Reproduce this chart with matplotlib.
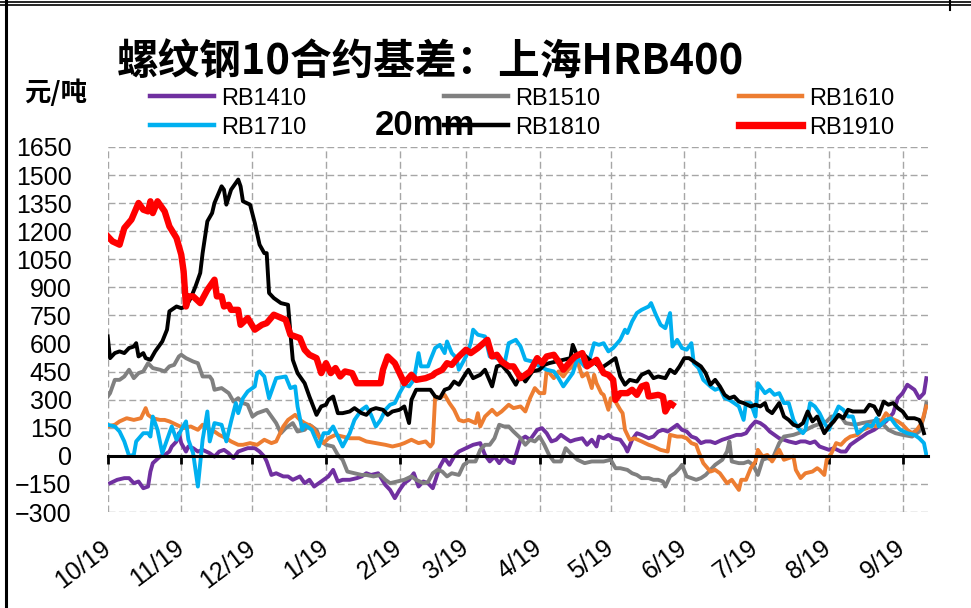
import matplotlib.pyplot as plt
from matplotlib.lines import Line2D
import numpy as np
import pandas as pd

plt.rcParams['font.family'] = ['Liberation Sans', 'Noto Sans CJK SC', 'DejaVu Sans']

# x values are calendar days counted from 1 Oct (season start)
months = pd.date_range('2018-10-01', '2019-09-01', freq='MS')
month_days = (months - months[0]).days
month_labels = ['10/19', '11/19', '12/19', '1/19', '2/19', '3/19',
                '4/19', '5/19', '6/19', '7/19', '8/19', '9/19']

# (day, basis) pairs
rb1410 = [(1, -146), (4, -128), (7, -119), (9, -119), (11, -146), (13, -137), (15, -173), (17, -164), (18, -84),
          (19, -39), (22, -4), (24, 5), (26, 23), (27, 50), (29, 77), (30, 121), (31, 68), (33, 23), (34, 50),
          (36, 41), (38, 23), (40, 32), (43, 14), (45, -4), (47, 23), (49, 32), (51, 14), (53, -12), (55, 23),
          (57, 32), (59, 41), (62, 41), (64, 23), (66, -4), (67, -30), (69, -102), (71, -93), (74, -110), (76, -110),
          (78, -128), (81, -110), (83, -146), (85, -128), (87, -164), (89, -146), (91, -128), (93, -110), (95, -75),
          (97, -137), (99, -128), (102, -128), (105, -119), (107, -110), (109, -93), (111, -102), (114, -93),
          (117, -155), (119, -182), (121, -226), (123, -182), (125, -146), (127, -128), (129, -93), (131, -164),
          (133, -137), (135, -146), (137, -173), (140, -57), (142, -12), (144, -48), (146, -4), (148, 23), (151, 41),
          (154, 59), (157, 68), (159, 5), (161, -30), (163, -4), (165, -39), (167, -4), (169, -30), (171, -39),
          (174, 86), (176, 103), (178, 86), (181, 139), (183, 148), (185, 121), (187, 77), (189, 86), (191, 112),
          (193, 94), (195, 77), (197, 86), (200, 94), (202, 59), (204, 86), (206, 50), (207, 103), (209, 94),
          (211, 112), (213, 94), (216, 86), (218, 50), (219, 23), (221, 86), (223, 121), (225, 112), (228, 94),
          (230, 103), (232, 130), (234, 139), (236, 130), (238, 148), (240, 166), (242, 139), (244, 130), (246, 103),
          (248, 94), (250, 68), (252, 77), (254, 77), (256, 68), (259, 86), (261, 94), (263, 103), (265, 112),
          (267, 112), (269, 121), (271, 157), (273, 184), (275, 175), (277, 157), (279, 130), (281, 112), (283, 94),
          (285, 86), (287, 77), (290, 68), (292, 77), (294, 77), (296, 68), (298, 77), (300, 50), (302, 41),
          (304, 32), (306, 41), (309, 23), (311, 23), (313, 59), (316, 86), (318, 103), (320, 121), (323, 139),
          (325, 157), (328, 184), (331, 228), (333, 308), (335, 335), (337, 380), (340, 353), (342, 308), (344, 335),
          (345, 415)]

rb1510 = [(0, 317), (1, 335), (3, 406), (5, 406), (7, 424), (9, 460), (11, 415), (13, 442), (15, 451), (17, 495),
          (19, 469), (22, 460), (24, 451), (26, 478), (28, 486), (30, 531), (31, 540), (33, 522), (36, 504), (38, 495),
          (40, 424), (43, 424), (44, 406), (45, 353), (48, 362), (50, 344), (51, 335), (53, 290), (55, 308), (57, 282),
          (59, 273), (61, 210), (63, 228), (65, 237), (67, 246), (69, 210), (71, 175), (73, 121), (75, 148), (78, 175),
          (80, 130), (83, 139), (85, 166), (88, 139), (90, 77), (92, 59), (95, 50), (97, 5), (99, -21), (101, -84),
          (104, -93), (107, -102), (109, -102), (112, -110), (115, -102), (117, -128), (119, -146), (122, -137),
          (125, -128), (128, -110), (130, -128), (133, -146), (135, -140), (137, -93), (139, -75), (141, -84),
          (143, -110), (145, -93), (148, -102), (150, -48), (152, -30), (155, -30), (157, 32), (159, 59), (161, 59),
          (163, 94), (165, 166), (167, 157), (169, 157), (171, 130), (174, 94), (176, 59), (178, 86), (180, 77),
          (182, 103), (184, 59), (186, 5), (188, -30), (191, -30), (193, 41), (195, 14), (198, -21), (201, -39),
          (204, -30), (207, -30), (209, -30), (212, -21), (214, -66), (216, -66), (219, -75), (221, -93), (223, -102),
          (225, -119), (228, -119), (230, -128), (232, -128), (234, -137), (235, -164), (237, -110), (239, -93),
          (241, -66), (242, -48), (244, -110), (246, -119), (248, -128), (250, -119), (252, -102), (254, -75),
          (256, -48), (259, -21), (261, 23), (262, 77), (263, -30), (266, -39), (268, -39), (270, -30), (272, -48),
          (274, -102), (276, -21), (278, -12), (280, -21), (283, 68), (285, 103), (289, 112), (293, 130), (297, 157),
          (303, 184), (305, 210), (309, 210), (311, 175), (315, 166), (318, 175), (322, 184), (325, 192), (329, 139),
          (332, 121), (335, 112), (339, 103), (342, 130), (344, 210), (345, 282)]

rb1610 = [(0, 157), (3, 166), (5, 184), (8, 201), (11, 192), (14, 201), (16, 255), (17, 219), (19, 201), (22, 192),
          (24, 192), (26, 184), (29, 166), (32, 148), (35, 157), (38, 139), (40, 166), (42, 148), (45, 130), (47, 112),
          (50, 94), (52, 77), (55, 59), (57, 59), (60, 68), (63, 59), (66, 86), (69, 68), (71, 77), (74, 157),
          (76, 192), (79, 219), (81, 192), (83, 175), (86, 157), (89, 103), (91, 68), (93, 94), (96, 112), (99, 103),
          (102, 94), (106, 94), (109, 77), (113, 68), (117, 59), (120, 50), (123, 59), (125, 68), (128, 86), (131, 68),
          (134, 77), (136, 50), (137, 68), (138, 317), (140, 308), (142, 326), (144, 282), (146, 246), (148, 192),
          (150, 184), (152, 192), (155, 175), (156, 228), (157, 157), (159, 210), (162, 246), (164, 219), (166, 237),
          (169, 273), (171, 255), (174, 264), (176, 237), (178, 308), (180, 362), (182, 335), (184, 335), (185, 460),
          (188, 415), (190, 451), (192, 424), (194, 460), (196, 478), (198, 504), (200, 424), (202, 442), (204, 362),
          (205, 433), (206, 388), (208, 335), (209, 326), (211, 246), (212, 308), (214, 290), (216, 246), (217, 228),
          (218, 139), (220, 86), (222, 94), (225, 77), (228, 59), (230, 50), (233, 32), (236, 23), (237, 112),
          (240, 103), (242, 103), (244, 94), (246, 68), (248, 59), (249, 23), (251, -39), (254, -84), (256, -75),
          (258, -93), (260, -128), (261, -146), (263, -128), (266, -182), (267, -128), (269, -128), (271, -66),
          (273, -30), (274, 32), (276, -4), (278, 5), (280, -30), (283, 32), (285, -21), (287, -12), (289, -4),
          (290, -75), (292, -119), (294, -93), (297, -84), (299, -66), (300, -75), (302, -102), (303, -21), (305, 14),
          (307, 68), (309, 59), (311, 86), (313, 103), (316, 112), (318, 139), (320, 148), (322, 166), (324, 157),
          (326, 184), (328, 228), (330, 201), (333, 184), (335, 166), (337, 139), (339, 121), (341, 139), (343, 175),
          (345, 264)]

rb1710 = [(0, 166), (3, 157), (5, 130), (7, 77), (9, 0), (11, 5), (12, 77), (15, 121), (17, 121), (18, 103), (19, 210),
          (21, 139), (23, 14), (25, 86), (27, 157), (29, 86), (31, 139), (33, 184), (34, 86), (36, 14), (38, -164),
          (39, -39), (40, 86), (42, 237), (43, 77), (45, 175), (48, 166), (50, 77), (52, 184), (54, 282), (55, 228),
          (57, 308), (59, 344), (62, 371), (63, 442), (64, 451), (66, 424), (68, 308), (71, 415), (75, 424), (77, 362),
          (79, 371), (80, 264), (82, 139), (83, 166), (86, 139), (89, 50), (91, 121), (93, 121), (95, 157), (97, 103),
          (99, 50), (102, 121), (104, 192), (107, 246), (109, 264), (111, 219), (113, 157), (115, 192), (117, 246),
          (119, 273), (121, 282), (123, 335), (125, 380), (127, 371), (129, 406), (131, 549), (132, 478), (135, 478),
          (136, 513), (138, 576), (140, 593), (142, 549), (143, 611), (145, 549), (147, 522), (148, 460), (151, 531),
          (153, 602), (154, 674), (156, 647), (159, 638), (161, 531), (164, 522), (166, 513), (167, 478), (169, 602),
          (172, 620), (174, 584), (176, 513), (179, 504), (182, 478), (185, 460), (188, 451), (190, 415), (192, 371),
          (194, 406), (196, 442), (198, 522), (201, 478), (203, 513), (205, 602), (207, 593), (209, 602), (211, 558),
          (213, 576), (216, 620), (218, 674), (219, 656), (221, 718), (223, 763), (225, 780), (228, 798), (229, 816),
          (231, 754), (233, 700), (235, 682), (237, 763), (238, 584), (240, 620), (242, 576), (244, 567), (246, 602),
          (247, 495), (249, 469), (251, 406), (254, 371), (256, 353), (258, 362), (260, 308), (262, 299), (264, 282),
          (266, 264), (268, 192), (269, 282), (271, 282), (273, 210), (274, 388), (277, 335), (279, 353), (281, 326),
          (283, 335), (285, 282), (287, 282), (289, 192), (291, 148), (293, 121), (294, 139), (296, 282), (298, 264),
          (300, 228), (302, 175), (304, 139), (306, 210), (308, 264), (310, 246), (312, 210), (314, 210), (316, 121),
          (318, 139), (320, 166), (322, 157), (324, 201), (325, 157), (328, 192), (330, 201), (332, 166), (334, 139),
          (337, 121), (340, 112), (342, 94), (344, 68), (345, 5)]

rb1810 = [(0, 638), (1, 522), (3, 549), (5, 558), (7, 549), (9, 576), (11, 584), (12, 602), (13, 531), (15, 549),
          (16, 522), (18, 513), (20, 558), (23, 611), (25, 674), (26, 772), (29, 798), (31, 789), (33, 798), (35, 843),
          (37, 905), (39, 977), (40, 1083), (42, 1253), (44, 1297), (45, 1351), (48, 1440), (49, 1422), (50, 1342),
          (52, 1422), (55, 1476), (56, 1440), (57, 1360), (60, 1342), (62, 1244), (64, 1128), (66, 1083), (67, 1083),
          (68, 870), (70, 843), (73, 816), (76, 807), (77, 656), (78, 513), (80, 442), (83, 388), (85, 317), (88, 219),
          (90, 264), (92, 273), (93, 299), (95, 317), (97, 228), (99, 228), (102, 237), (104, 255), (107, 228),
          (109, 219), (111, 246), (113, 255), (116, 246), (118, 219), (120, 237), (123, 246), (125, 264), (127, 175),
          (128, 299), (130, 353), (133, 353), (136, 353), (138, 317), (140, 308), (142, 353), (144, 362), (146, 397),
          (148, 380), (151, 442), (152, 460), (154, 415), (157, 433), (159, 460), (162, 371), (164, 478), (166, 486),
          (169, 442), (172, 380), (174, 433), (176, 397), (179, 451), (182, 460), (184, 486), (186, 495), (189, 504),
          (192, 513), (195, 522), (196, 593), (198, 531), (200, 549), (203, 513), (205, 500), (208, 469), (211, 495),
          (214, 522), (216, 424), (218, 380), (220, 406), (223, 397), (225, 433), (228, 451), (230, 415), (232, 424),
          (235, 415), (237, 460), (239, 442), (241, 478), (243, 522), (245, 522), (247, 504), (250, 478), (252, 442),
          (254, 380), (256, 406), (258, 371), (260, 326), (262, 308), (264, 317), (266, 290), (268, 282), (271, 264),
          (273, 273), (275, 264), (277, 282), (278, 246), (280, 228), (283, 282), (285, 210), (287, 192), (289, 166),
          (291, 157), (293, 175), (295, 237), (297, 184), (299, 210), (302, 121), (304, 157), (306, 184), (308, 219),
          (310, 201), (312, 246), (314, 237), (317, 237), (319, 237), (321, 273), (323, 264), (325, 219), (327, 290),
          (329, 273), (331, 282), (333, 255), (335, 237), (337, 201), (340, 201), (342, 192), (343, 166), (344, 121)]

rb1910 = [(0, 1173), (2, 1146), (5, 1128), (7, 1217), (10, 1262), (13, 1351), (15, 1315), (17, 1306), (18, 1360),
          (19, 1297), (21, 1360), (24, 1306), (26, 1226), (29, 1164), (31, 1075), (32, 985), (33, 798), (34, 852),
          (36, 852), (39, 816), (42, 887), (45, 941), (46, 852), (48, 852), (49, 798), (51, 807), (52, 780), (55, 780),
          (56, 700), (59, 736), (62, 674), (65, 700), (67, 709), (70, 754), (75, 727), (77, 647), (81, 629), (83, 567),
          (85, 540), (88, 522), (90, 442), (92, 495), (94, 442), (96, 469), (98, 424), (100, 451), (103, 442),
          (105, 388), (115, 388), (116, 460), (118, 531), (121, 495), (123, 442), (125, 388), (128, 433), (130, 406),
          (134, 415), (137, 430), (138, 442), (141, 460), (143, 495), (145, 486), (148, 531), (151, 567), (153, 549),
          (156, 576), (160, 620), (162, 531), (164, 540), (166, 504), (169, 478), (171, 478), (174, 415), (178, 451),
          (181, 522), (183, 495), (185, 531), (188, 540), (190, 504), (192, 460), (195, 504), (197, 531), (200, 549),
          (202, 478), (205, 504), (206, 513), (209, 442), (211, 433), (213, 406), (214, 299), (216, 335), (219, 335),
          (221, 353), (223, 326), (225, 371), (227, 380), (228, 317), (232, 326), (234, 317), (235, 237), (237, 282),
          (238, 273)]

series = [
    ('RB1410', rb1410, '#7030A0', 2.8),
    ('RB1510', rb1510, '#808080', 2.8),
    ('RB1610', rb1610, '#ED7D31', 2.8),
    ('RB1710', rb1710, '#00B0F0', 2.8),
    ('RB1810', rb1810, '#000000', 2.8),
    ('RB1910', rb1910, '#FF0000', 4.6),
]

fig = plt.figure(figsize=(9.71, 6.08), dpi=100)
ax = fig.add_axes([107.7 / 971, 96 / 608, 820.3 / 971, 365 / 608])

for name, pts, c, lw in series:
    d, v = zip(*pts)
    ax.plot(d, v, color=c, lw=lw, label=name, solid_joinstyle='round')

ax.set_xlim(0, 345.7)
ax.set_ylim(-300, 1650)
ax.set_yticks(np.arange(-300, 1651, 150))
ax.set_xticks(month_days)
ax.grid(True, color='#A6A6A6', lw=1.0, ls=(0, (5, 2.5)))
for s in ['top', 'right', 'left']:
    ax.spines[s].set_visible(False)
ax.spines['bottom'].set_position(('data', 0))
ax.spines['bottom'].set_linewidth(2.2)
ax.tick_params(axis='x', direction='out', length=6, width=2, labelbottom=False)
ax.tick_params(axis='y', length=0, pad=26, labelsize=18)

# month labels sit at the bottom of the plot, not on the zero line
sec = ax.secondary_xaxis('bottom')
sec.set_xticks(month_days, month_labels)
sec.spines['bottom'].set_visible(False)
sec.tick_params(length=0, pad=24, labelsize=18)
plt.setp(sec.get_xticklabels(), rotation=37, ha='right', va='center', rotation_mode='anchor')

h, l = ax.get_legend_handles_labels()
order = [0, 3, 1, 4, 2, 5]
leg = fig.legend([h[i] for i in order], [l[i] for i in order], ncol=3, loc='center',
                 bbox_to_anchor=(0.538, 0.814), frameon=False, fontsize=17,
                 handlelength=2.7, handletextpad=0.3, columnspacing=5.85, labelspacing=0.3)
for line in leg.get_lines():
    line.set_linewidth(line.get_linewidth() * 1.15)

fig.text(0.443, 0.898, '螺纹钢10合约基差：上海HRB400', ha='center', va='center',
         fontsize=30, fontweight='bold', family=['Noto Sans CJK SC'])
fig.text(0.438, 0.794, '20mm', ha='center', va='center', fontsize=25, fontweight='bold',
         family=['Liberation Sans Narrow', 'Liberation Sans'])
fig.text(56 / 971, 1 - 93 / 608, '元/吨', ha='center', va='center', fontsize=19,
         fontweight='bold', family=['Noto Sans CJK SC'])

# frame edges of the original screenshot
for yy in [1 - 1.5 / 608, 1 - 5 / 608]:
    fig.add_artist(Line2D([0, 1], [yy, yy], transform=fig.transFigure, color='black', lw=1.2))
fig.add_artist(Line2D([6 / 971, 6 / 971], [0, 1], transform=fig.transFigure, color='black', lw=2.2))
fig.add_artist(Line2D([950 / 971, 950 / 971], [1 - 10 / 608, 1], transform=fig.transFigure, color='black', lw=1.5))

fig.savefig('out.png', dpi=100)
